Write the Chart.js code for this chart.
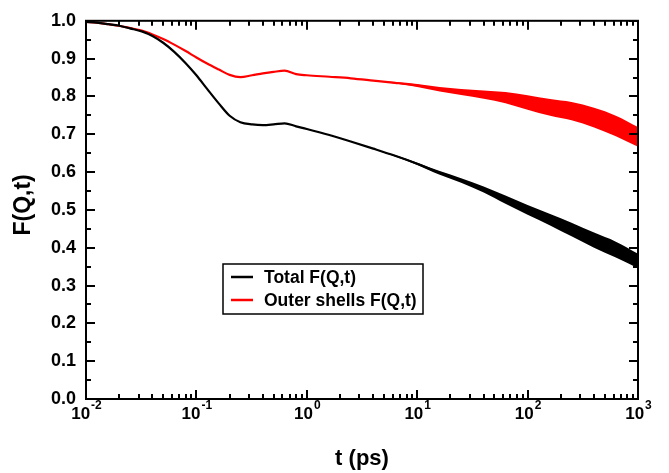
<!DOCTYPE html>
<html>
<head>
<meta charset="utf-8">
<script src="https://cdn.jsdelivr.net/npm/chart.js@4.4.1/dist/chart.umd.min.js"></script>
<style>
  html, body { margin: 0; padding: 0; background: #fff; }
  canvas { display: block; }
</style>
</head>
<body>
<canvas id="fqt" width="669" height="473"></canvas>
<script>
// time axis (ps) and the two curves
const times = [0.01, 0.0125, 0.016, 0.02, 0.025, 0.032, 0.04, 0.05, 0.063, 0.08,
    0.1, 0.125, 0.16, 0.2, 0.25, 0.32, 0.4, 0.5, 0.63, 0.8,
    1, 1.6, 2.5, 4, 6.3, 10, 16, 25, 40, 63,
    100, 160, 250, 400, 630, 1000];
const totalFqt = [0.997, 0.995, 0.991, 0.987, 0.98, 0.972, 0.96, 0.942, 0.918, 0.888,
    0.856, 0.82, 0.781, 0.749, 0.732, 0.726, 0.724, 0.726, 0.729, 0.721,
    0.714, 0.698, 0.681, 0.662, 0.643, 0.622, 0.598, 0.578, 0.554, 0.527,
    0.5, 0.474, 0.448, 0.42, 0.395, 0.365];
const outerFqt = [0.997, 0.995, 0.991, 0.987, 0.981, 0.974, 0.964, 0.952, 0.937, 0.92,
    0.903, 0.887, 0.871, 0.857, 0.851, 0.856, 0.861, 0.865, 0.868, 0.859,
    0.856, 0.852, 0.848, 0.842, 0.836, 0.829, 0.819, 0.812, 0.805, 0.797,
    0.784, 0.771, 0.761, 0.744, 0.722, 0.693];
// half width of the noisy band at long times
const totalNoise = [0, 0, 0, 0, 0, 0, 0, 0, 0, 0,
    0, 0, 0, 0, 0, 0, 0, 0, 0, 0,
    0, 0, 0, 0, 0.002, 0.003, 0.005, 0.006, 0.008, 0.011,
    0.013, 0.015, 0.018, 0.02, 0.021, 0.019];
const outerNoise = [0, 0, 0, 0, 0, 0, 0, 0, 0, 0,
    0, 0, 0, 0, 0, 0, 0, 0, 0, 0,
    0, 0, 0, 0, 0.002, 0.004, 0.006, 0.008, 0.011, 0.015,
    0.019, 0.022, 0.024, 0.026, 0.027, 0.026];

const seriesLabels = ['Total F(Q,t)', 'Outer shells F(Q,t)'];
const seriesColors = ['#000000', '#ff0000'];
const xDecades = [-2, -1, 0, 1, 2, 3];
const xTitle = 't (ps)';
const yTitle = 'F(Q,t)';

const FONT = '"Liberation Sans", Arial, sans-serif';

function linePoints(vals) {
    return times.map((t, i) => ({ x: t, y: vals[i] }));
}

function bandData(vals, noise, sign) {
    const out = [];
    times.forEach((t, i) => {
        if (noise[i] > 0 || noise[i + 1] > 0) out.push({ x: t, y: vals[i] + sign * noise[i] });
    });
    return out;
}

function bandSets(vals, noise, color) {
    return [
        { data: bandData(vals, noise, 1), borderColor: 'rgba(0,0,0,0)', borderWidth: 1, pointRadius: 0, fill: false, cubicInterpolationMode: 'monotone' },
        { data: bandData(vals, noise, -1), borderColor: 'rgba(0,0,0,0)', borderWidth: 1, pointRadius: 0, fill: '-1', backgroundColor: color, cubicInterpolationMode: 'monotone' },
    ];
}

// frame, inward ticks, x labels, titles and legend
const framePlugin = {
    id: 'frame',
    afterDraw(chart) {
        const { ctx, chartArea: a } = chart;
        const xs = chart.scales.x;
        const ys = chart.scales.y;
        ctx.save();
        ctx.strokeStyle = '#000';
        ctx.fillStyle = '#000';
        ctx.lineWidth = 2;
        ctx.strokeRect(a.left, a.top, a.right - a.left, a.bottom - a.top);

        ctx.beginPath();
        for (let i = 0; i <= 20; i++) {
            const y = Math.round(ys.getPixelForValue(i * 0.05));
            const len = i % 2 === 0 ? 9 : 5;
            ctx.moveTo(a.left, y); ctx.lineTo(a.left + len, y);
            ctx.moveTo(a.right, y); ctx.lineTo(a.right - len, y);
        }
        xDecades.forEach((e) => {
            const last = e === xDecades[xDecades.length - 1];
            for (let m = 1; m <= (last ? 1 : 9); m++) {
                const x = Math.round(xs.getPixelForValue(m * Math.pow(10, e)));
                const len = m === 1 ? 9 : 5;
                ctx.moveTo(x, a.bottom); ctx.lineTo(x, a.bottom - len);
                ctx.moveTo(x, a.top); ctx.lineTo(x, a.top + len);
            }
        });
        ctx.stroke();

        // 10^n labels
        ctx.textBaseline = 'alphabetic';
        ctx.textAlign = 'left';
        xDecades.forEach((e) => {
            const x = xs.getPixelForValue(Math.pow(10, e));
            const exp = String(e);
            ctx.font = 'bold 17px ' + FONT;
            const wBase = ctx.measureText('10').width;
            ctx.font = 'bold 12px ' + FONT;
            const wExp = ctx.measureText(exp).width;
            const x0 = x - (wBase + wExp) / 2;
            ctx.font = 'bold 17px ' + FONT;
            ctx.fillText('10', x0, a.bottom + 20);
            ctx.font = 'bold 12px ' + FONT;
            ctx.fillText(exp, x0 + wBase + 1, a.bottom + 10);
        });

        // axis titles
        ctx.font = 'bold 22px ' + FONT;
        ctx.textAlign = 'center';
        ctx.textBaseline = 'middle';
        ctx.fillText(xTitle, (a.left + a.right) / 2, a.bottom + 60);
        ctx.save();
        ctx.font = 'bold 23px ' + FONT;
        ctx.translate(24, (a.top + a.bottom) / 2 - 5);
        ctx.rotate(-Math.PI / 2);
        ctx.fillText(yTitle, 0, 0);
        ctx.restore();

        // legend box
        const lx = Math.round(xs.getPixelForValue(0.175));
        const ly = Math.round(ys.getPixelForValue(0.356));
        const lw = 200;
        const lh = 50;
        ctx.lineWidth = 1.5;
        ctx.strokeRect(lx, ly, lw, lh);
        ctx.font = 'bold 17.5px ' + FONT;
        ctx.textAlign = 'left';
        seriesLabels.forEach((label, i) => {
            const cy = ly + 13 + i * 23;
            ctx.strokeStyle = seriesColors[i];
            ctx.lineWidth = 2.5;
            ctx.beginPath();
            ctx.moveTo(lx + 8, cy); ctx.lineTo(lx + 30, cy);
            ctx.stroke();
            ctx.fillText(label, lx + 41, cy + 1);
        });
        ctx.restore();
    },
};

new Chart(document.getElementById('fqt'), {
    type: 'line',
    data: {
        datasets: [
            { label: seriesLabels[0], data: linePoints(totalFqt), borderColor: seriesColors[0], borderWidth: 2.2, pointRadius: 0, fill: false, cubicInterpolationMode: 'monotone' },
            { label: seriesLabels[1], data: linePoints(outerFqt), borderColor: seriesColors[1], borderWidth: 2.2, pointRadius: 0, fill: false, cubicInterpolationMode: 'monotone' },
            ...bandSets(totalFqt, totalNoise, seriesColors[0]),
            ...bandSets(outerFqt, outerNoise, seriesColors[1]),
        ],
    },
    options: {
        responsive: false,
        animation: false,
        layout: { padding: { top: 14, right: 31, left: 0, bottom: 0 } },
        plugins: { legend: { display: false }, tooltip: { enabled: false } },
        scales: {
            x: {
                type: 'logarithmic',
                min: 0.01,
                max: 1000,
                grid: { display: false, drawTicks: false },
                border: { display: false },
                ticks: { display: false },
                afterFit: (s) => { s.height = 74; },
            },
            y: {
                min: 0,
                max: 1,
                grid: { display: false, drawTicks: false },
                border: { display: false },
                ticks: {
                    stepSize: 0.1,
                    padding: 10,
                    color: '#000',
                    font: { family: FONT, size: 18, weight: 'bold' },
                    callback: (v) => v.toFixed(1),
                },
                afterFit: (s) => { s.width = 86; },
            },
        },
    },
    plugins: [framePlugin],
});
</script>
</body>
</html>
